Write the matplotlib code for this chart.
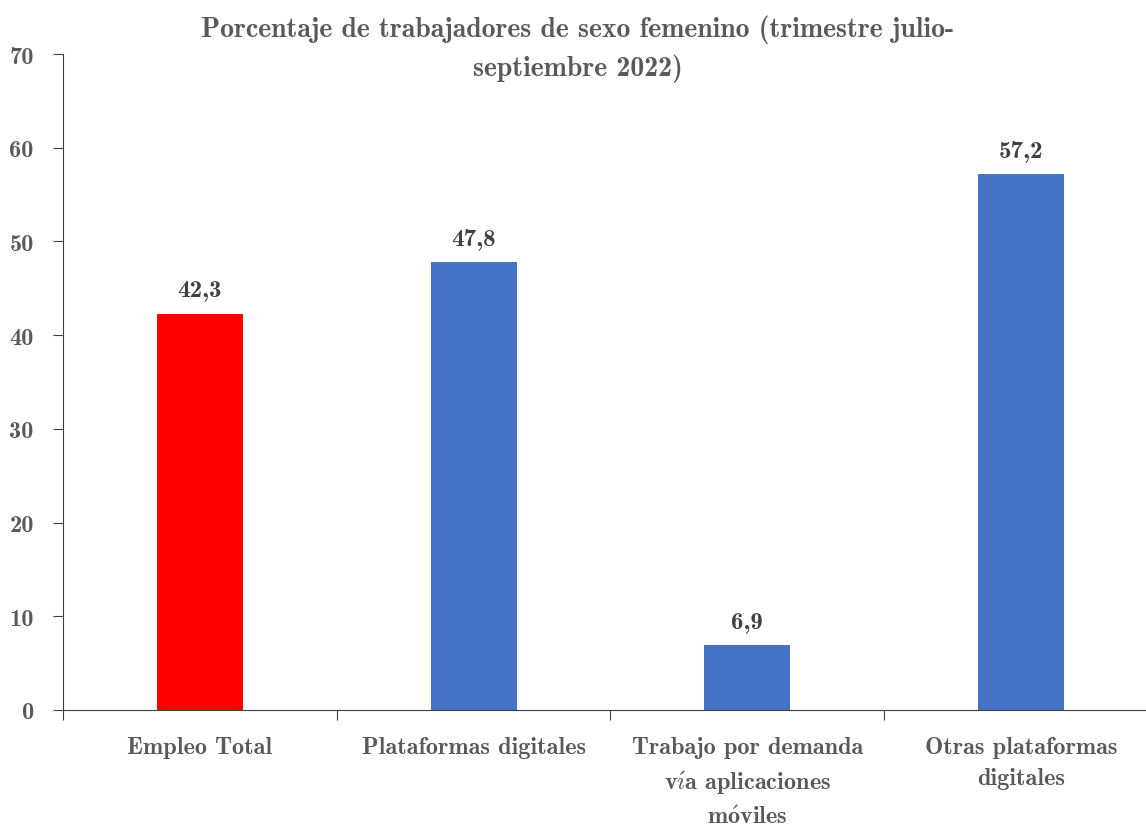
import matplotlib
matplotlib.use("Agg")
import matplotlib.pyplot as plt

categories = ["Empleo Total", "Plataformas digitales",
              "Trabajo por demanda\nv$\\mathbf{\\acute{\\imath}}$a aplicaciones\nm$\\mathbf{\\acute{o}}$viles",
              "Otras plataformas\ndigitales"]
values = [42.3, 47.8, 6.9, 57.2]
colors = ["#FF0000", "#4472C4", "#4472C4", "#4472C4"]
yticks = [0, 10, 20, 30, 40, 50, 60, 70]
title = "Porcentaje de trabajadores de sexo femenino (trimestre julio-\nseptiembre 2022)"

fam = ["cmb10", "DejaVu Serif"]
plt.rcParams["axes.unicode_minus"] = False
plt.rcParams["mathtext.fontset"] = "cm"

fig = plt.figure(figsize=(11.46, 8.29), dpi=100)
ax = fig.add_axes([63/1146, 1-711/829, (1158-63)/1146, (711-55)/829])
x = list(range(len(categories)))
ax.bar(x, values, width=0.315, color=colors)
for xi, v in zip(x, values):
    ax.text(xi, v + 1.3, f"{v:.1f}".replace(".", ","), ha="center", va="bottom",
            fontsize=18, color="#404040", family=fam)
ax.set_xlim(-0.5, 3.5)
ax.set_ylim(0, 70)
ax.set_yticks(yticks)
ax.set_yticklabels([str(t) for t in yticks], family=fam, fontsize=17.5, color="#595959")
ax.set_xticks([-0.5, 0.5, 1.5, 2.5, 3.5])
ax.set_xticklabels([])
ax.set_xticks(x, minor=True)
ax.set_xticklabels(categories, minor=True, family=fam, fontsize=17.5, color="#595959", linespacing=1.5)
ax.tick_params(axis="x", which="minor", length=0, pad=19)
ax.tick_params(axis="x", which="major", length=7, direction="out", color="#404040")
ax.tick_params(axis="y", length=7, direction="out", color="#404040", pad=14)
for s in ["top", "right"]:
    ax.spines[s].set_visible(False)
ax.spines["left"].set_color("#404040")
ax.spines["bottom"].set_color("#404040")
fig.text(578/1146, 1-49/829, title, ha="center", va="center", fontsize=20,
         color="#595959", family=fam, linespacing=1.48)
fig.savefig("out.png", dpi=100)
